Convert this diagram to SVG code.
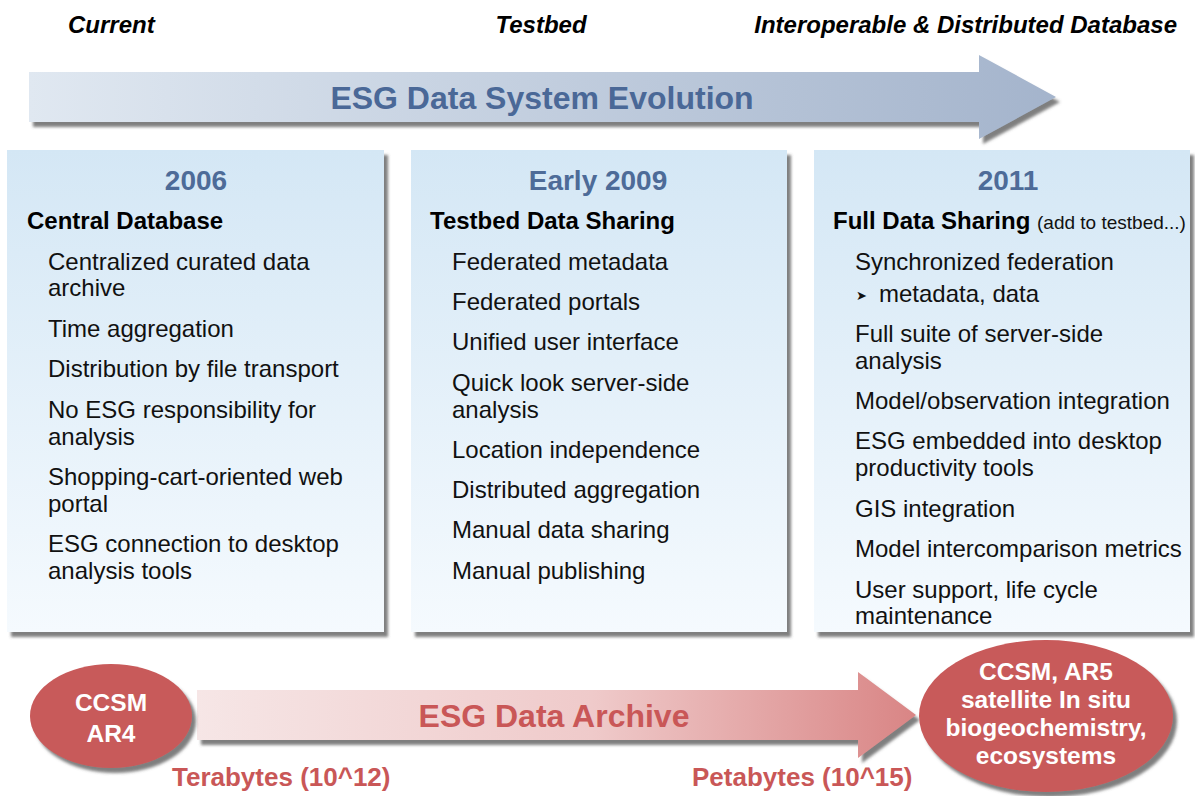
<svg xmlns="http://www.w3.org/2000/svg" width="1195" height="796" viewBox="0 0 1195 796">
<defs>
<linearGradient id="gBlue" x1="0" y1="0" x2="1" y2="0">
<stop offset="0" stop-color="#e0e8f1"/>
<stop offset="1" stop-color="#a4b4cc"/>
</linearGradient>
<linearGradient id="gRed" x1="0" y1="0" x2="1" y2="0">
<stop offset="0" stop-color="#f6e6e6"/>
<stop offset="0.55" stop-color="#efcaca"/>
<stop offset="1" stop-color="#d98585"/>
</linearGradient>
<linearGradient id="gPanel" x1="0" y1="0" x2="0" y2="1">
<stop offset="0" stop-color="#d4e7f5"/>
<stop offset="1" stop-color="#f5fafe"/>
</linearGradient>
<filter id="sh" x="-5%" y="-5%" width="115%" height="120%">
<feGaussianBlur in="SourceAlpha" stdDeviation="1.8"/>
<feOffset dx="4" dy="5" result="b"/>
<feFlood flood-color="#555" flood-opacity="0.75"/>
<feComposite in2="b" operator="in"/>
<feMerge><feMergeNode/><feMergeNode in="SourceGraphic"/></feMerge>
</filter>
</defs>
<style>
.hd{font-family:"Liberation Sans",Arial,sans-serif;font-weight:bold;font-style:italic;font-size:24px;fill:#000}
.yr{font-family:"Liberation Sans",Arial,sans-serif;font-weight:bold;font-size:28px;fill:#4d6b98;text-anchor:middle}
.sub{font-family:"Liberation Sans",Arial,sans-serif;font-weight:bold;font-size:24px;fill:#000}
.it{font-family:"Liberation Sans",Arial,sans-serif;font-size:24px;fill:#111}
.sm{font-family:"Liberation Sans",Arial,sans-serif;font-size:19px;font-weight:normal;fill:#111}
.big{font-family:"Liberation Sans",Arial,sans-serif;font-weight:bold;font-size:32px;text-anchor:middle}
.red{font-family:"Liberation Sans",Arial,sans-serif;font-weight:bold;font-size:26px;fill:#c95757}
.el{font-family:"Liberation Sans",Arial,sans-serif;font-weight:bold;font-size:24.5px;fill:#fff;text-anchor:middle}
</style>

<g id="headers">
<text class="hd" x="68" y="33">Current</text>
<text class="hd" x="541" y="33" text-anchor="middle">Testbed</text>
<text class="hd" x="1177" y="33" text-anchor="end">Interoperable &amp; Distributed Database</text>
</g>

<g id="evolution-arrow">
<polygon points="29,72 979,72 979,55 1056,97 979,139 979,122 29,122" fill="url(#gBlue)" filter="url(#sh)"/>
<text class="big" x="542" y="109" fill="#4a6897">ESG Data System Evolution</text>
</g>

<g id="panel-2006">
<rect x="7" y="150" width="377" height="482" fill="url(#gPanel)" filter="url(#sh)"/>
<text class="yr" x="196" y="190">2006</text>
<text class="sub" x="27" y="229">Central Database</text>
<text class="it" x="48" y="270">Centralized curated data</text>
<text class="it" x="48" y="296">archive</text>
<text class="it" x="48" y="337">Time aggregation</text>
<text class="it" x="48" y="377">Distribution by file transport</text>
<text class="it" x="48" y="418">No ESG responsibility for</text>
<text class="it" x="48" y="445">analysis</text>
<text class="it" x="48" y="485">Shopping-cart-oriented web</text>
<text class="it" x="48" y="512">portal</text>
<text class="it" x="48" y="552">ESG connection to desktop</text>
<text class="it" x="48" y="579">analysis tools</text>
</g>

<g id="panel-2009">
<rect x="411" y="150" width="376" height="482" fill="url(#gPanel)" filter="url(#sh)"/>
<text class="yr" x="598" y="190">Early 2009</text>
<text class="sub" x="430" y="229">Testbed Data Sharing</text>
<text class="it" x="452" y="270">Federated metadata</text>
<text class="it" x="452" y="310">Federated portals</text>
<text class="it" x="452" y="350">Unified user interface</text>
<text class="it" x="452" y="391">Quick look server-side</text>
<text class="it" x="452" y="418">analysis</text>
<text class="it" x="452" y="458">Location independence</text>
<text class="it" x="452" y="498">Distributed aggregation</text>
<text class="it" x="452" y="538">Manual data sharing</text>
<text class="it" x="452" y="579">Manual publishing</text>
</g>

<g id="panel-2011">
<rect x="814" y="150" width="376" height="482" fill="url(#gPanel)" filter="url(#sh)"/>
<text class="yr" x="1008" y="190">2011</text>
<text class="sub" x="833" y="229">Full Data Sharing <tspan class="sm">(add to testbed...)</tspan></text>
<text class="it" x="855" y="270">Synchronized federation</text>
<text x="856" y="300" style="font-family:'DejaVu Sans',sans-serif;font-size:13px;fill:#111">➤</text>
<text class="it" x="879" y="302">metadata, data</text>
<text class="it" x="855" y="342">Full suite of server-side</text>
<text class="it" x="855" y="369">analysis</text>
<text class="it" x="855" y="409">Model/observation integration</text>
<text class="it" x="855" y="449">ESG embedded into desktop</text>
<text class="it" x="855" y="476">productivity tools</text>
<text class="it" x="855" y="517">GIS integration</text>
<text class="it" x="855" y="557">Model intercomparison metrics</text>
<text class="it" x="855" y="598">User support, life cycle</text>
<text class="it" x="855" y="624">maintenance</text>
</g>

<g id="archive-arrow">
<polygon points="197,690 858,690 858,672 916,715 858,758 858,740 197,740" fill="url(#gRed)" filter="url(#sh)"/>
<text class="big" x="554" y="727" fill="#c95757">ESG Data Archive</text>
</g>

<g id="node-ar4">
<ellipse cx="111" cy="716" rx="81" ry="52" fill="#c85a5a" filter="url(#sh)"/>
<text class="el" x="111" y="711" font-size="26">CCSM</text>
<text class="el" x="111" y="742" font-size="26">AR4</text>
</g>

<g id="node-ar5">
<ellipse cx="1046" cy="716" rx="127" ry="76" fill="#c85a5a" filter="url(#sh)"/>
<text class="el" x="1046" y="680">CCSM, AR5</text>
<text class="el" x="1046" y="708">satellite In situ</text>
<text class="el" x="1046" y="736">biogeochemistry,</text>
<text class="el" x="1046" y="764">ecosystems</text>
</g>

<g id="labels">
<text class="red" x="172" y="786">Terabytes (10^12)</text>
<text class="red" x="692" y="786">Petabytes (10^15)</text>
</g>
</svg>
